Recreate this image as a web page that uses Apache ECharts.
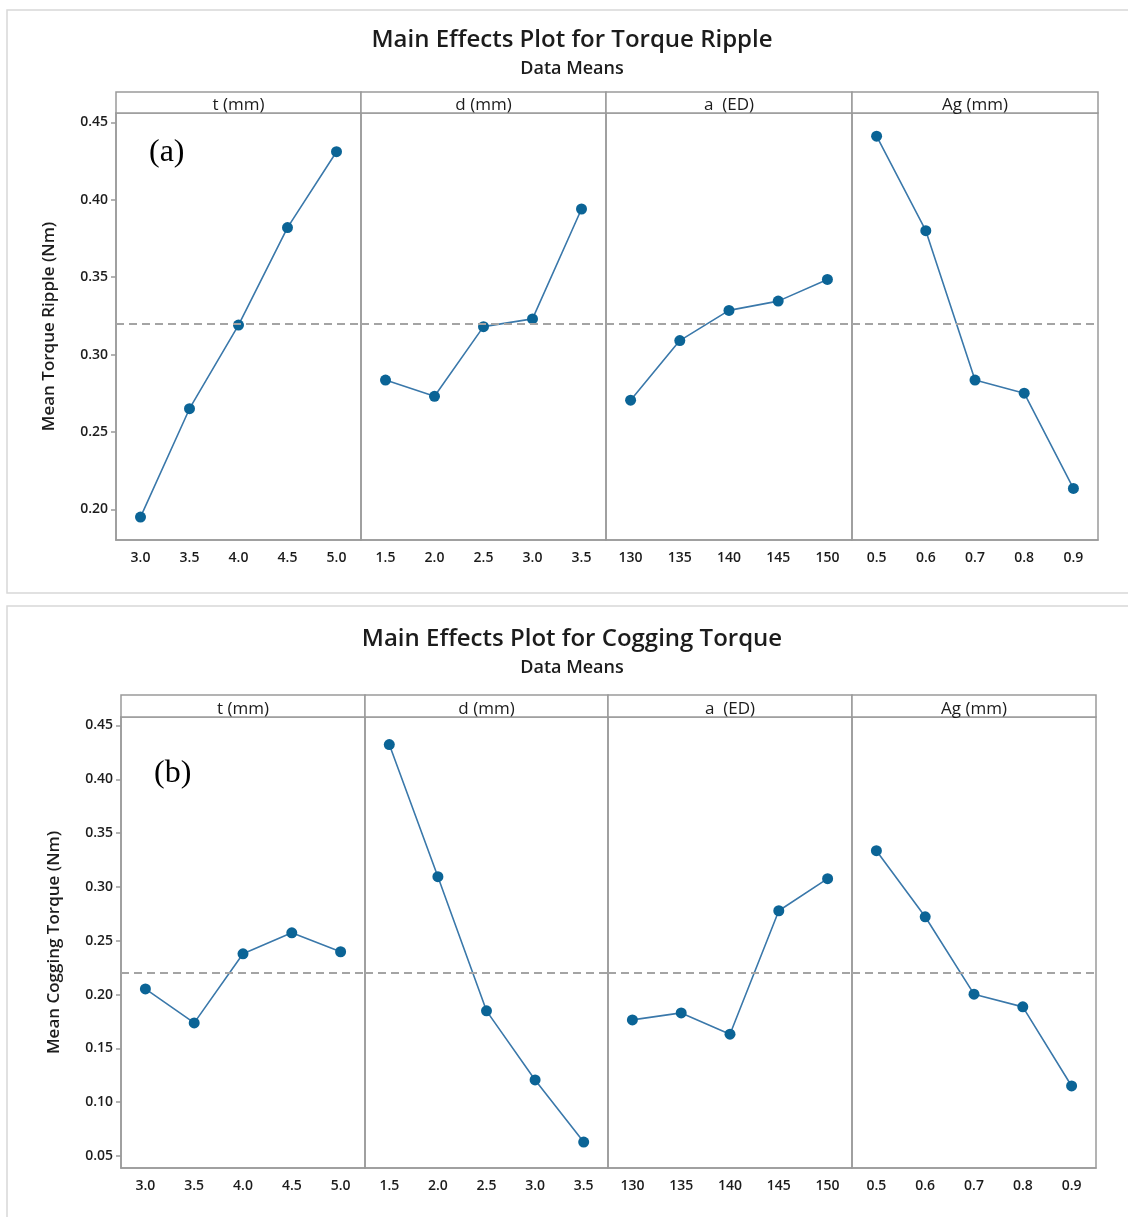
<!DOCTYPE html>
<html>
<head>
<meta charset="utf-8">
<title>Main Effects Plots</title>
<script src="https://cdn.jsdelivr.net/npm/echarts@6/dist/echarts.min.js"></script>
<style>
    body{margin:0;background:#fff}
    #main{width:1128px;height:1217px}
</style>
</head>
<body>
<div id="main"></div>
<script>
// factor names and their levels
var factors = ['t (mm)', 'd (mm)', 'a  (ED)', 'Ag (mm)'];
var levelsT = ['3.0', '3.5', '4.0', '4.5', '5.0'];
var levelsD = ['1.5', '2.0', '2.5', '3.0', '3.5'];
var levelsA = ['130', '135', '140', '145', '150'];
var levelsAg = ['0.5', '0.6', '0.7', '0.8', '0.9'];

// (a) torque ripple means
var rippleT = [0.195, 0.265, 0.319, 0.382, 0.431];
var rippleD = [0.2835, 0.273, 0.318, 0.323, 0.394];
var rippleA = [0.2705, 0.309, 0.3285, 0.3345, 0.3485];
var rippleAg = [0.441, 0.380, 0.2835, 0.275, 0.2135];
var rippleMean = 0.3182;
var rippleTicks = [0.20, 0.25, 0.30, 0.35, 0.40, 0.45];

// (b) cogging torque means
var coggingT = [0.2053, 0.1737, 0.2379, 0.2574, 0.2398];
var coggingD = [0.4323, 0.3095, 0.1849, 0.1207, 0.0630];
var coggingA = [0.1765, 0.1830, 0.1632, 0.2779, 0.3077];
var coggingAg = [0.3337, 0.2723, 0.2004, 0.1886, 0.1151];
var coggingMean = 0.2221;
var coggingTicks = [0.05, 0.10, 0.15, 0.20, 0.25, 0.30, 0.35, 0.40, 0.45];

var FONT = 'Open Sans';
var INK = '#1c1c1c';
var levels = [levelsT, levelsD, levelsA, levelsAg];

var option = {
    animation: false,
    backgroundColor: '#fff',
    textStyle: {fontFamily: FONT},
    grid: [], xAxis: [], yAxis: [], series: [], graphic: []
};

function addPlot(cfg) {
    var g0 = option.grid.length;
    for (var i = 0; i < 4; i++) {
        var left = cfg.edges[i], width = cfg.edges[i + 1] - cfg.edges[i];
        option.grid.push({
            left: left, top: cfg.top, width: width, height: cfg.bottom - cfg.top,
            show: true, borderColor: '#9a9a9a', borderWidth: 1.5, backgroundColor: 'transparent'
        });
        option.xAxis.push({
            type: 'category', gridIndex: g0 + i, data: levels[i], boundaryGap: true,
            axisLine: {lineStyle: {color: '#9a9a9a', width: 1.5}},
            axisTick: {alignWithLabel: true, length: 5, lineStyle: {color: '#9a9a9a', width: 1.5}},
            axisLabel: {color: INK, fontSize: 14, fontWeight: 600, margin: 11}
        });
        option.yAxis.push({
            type: 'value', gridIndex: g0 + i, min: cfg.min, max: cfg.max,
            show: i === 0,
            name: i === 0 ? cfg.yName : '',
            nameLocation: 'middle', nameGap: 58, nameRotate: 90,
            nameTextStyle: {color: INK, fontSize: 17, fontWeight: 600},
            splitLine: {show: false},
            axisLine: {show: true, lineStyle: {color: '#9a9a9a', width: 1.5}},
            axisTick: {show: true, length: 5, customValues: cfg.ticks, lineStyle: {color: '#9a9a9a', width: 1.5}},
            axisLabel: {color: INK, fontSize: 14, fontWeight: 600, margin: 8, customValues: cfg.ticks,
                formatter: function (v) { return v.toFixed(2); }}
        });
        option.series.push({
            type: 'line', xAxisIndex: g0 + i, yAxisIndex: g0 + i, data: cfg.data[i],
            symbol: 'circle', symbolSize: 11,
            itemStyle: {color: '#0b6496'},
            lineStyle: {color: '#3a78aa', width: 1.6},
            markLine: {
                silent: true, symbol: ['none', 'none'], label: {show: false},
                lineStyle: {color: '#a4a4a4', type: [8, 5], width: 2},
                data: [{yAxis: cfg.mean}]
            }
        });
        // header strip for the factor
        option.graphic.push({
            type: 'rect', shape: {x: left, y: cfg.headTop, width: width, height: cfg.top - cfg.headTop},
            style: {fill: '#fff', stroke: '#9a9a9a', lineWidth: 1.5}, z: 1
        });
        option.graphic.push({
            type: 'text', x: left + width / 2, y: cfg.top + 1,
            style: {text: factors[i], fill: INK, font: '500 17px "' + FONT + '"', textAlign: 'center', textVerticalAlign: 'bottom'},
            z: 2
        });
    }
    // outer frame, titles and panel tag
    option.graphic.push({
        type: 'rect', shape: {x: 7, y: cfg.boxTop, width: 1130, height: cfg.boxBottom - cfg.boxTop},
        style: {fill: 'none', stroke: '#d8d8d8', lineWidth: 1.5}, z: 0
    });
    option.graphic.push({
        type: 'text', x: 572, y: cfg.titleY,
        style: {text: cfg.title, fill: INK, font: '600 24px "' + FONT + '"', textAlign: 'center', textVerticalAlign: 'middle'}
    });
    option.graphic.push({
        type: 'text', x: 572, y: cfg.titleY + 29,
        style: {text: 'Data Means', fill: INK, font: '600 18px "' + FONT + '"', textAlign: 'center', textVerticalAlign: 'middle'}
    });
    option.graphic.push({
        type: 'text', x: cfg.edges[0] + 33, y: cfg.tagY,
        style: {text: cfg.tag, fill: '#000', font: '32px "Liberation Serif"', textVerticalAlign: 'middle'}
    });
}

addPlot({
    edges: [116, 361, 606, 852, 1098], top: 113, bottom: 540, headTop: 92,
    min: 0.1802, max: 0.456, ticks: rippleTicks, mean: rippleMean,
    data: [rippleT, rippleD, rippleA, rippleAg],
    yName: 'Mean Torque Ripple (Nm)', title: 'Main Effects Plot for Torque Ripple',
    titleY: 40, boxTop: 10, boxBottom: 593, tag: '(a)', tagY: 153
});
addPlot({
    edges: [121, 365, 608, 852, 1096], top: 717, bottom: 1168, headTop: 695,
    min: 0.0389, max: 0.4579, ticks: coggingTicks, mean: coggingMean,
    data: [coggingT, coggingD, coggingA, coggingAg],
    yName: 'Mean Cogging Torque (Nm)', title: 'Main Effects Plot for Cogging Torque',
    titleY: 639, boxTop: 606, boxBottom: 1230, tag: '(b)', tagY: 774
});

var myChart = echarts.init(document.getElementById('main'));
myChart.setOption(option);
</script>
</body>
</html>
